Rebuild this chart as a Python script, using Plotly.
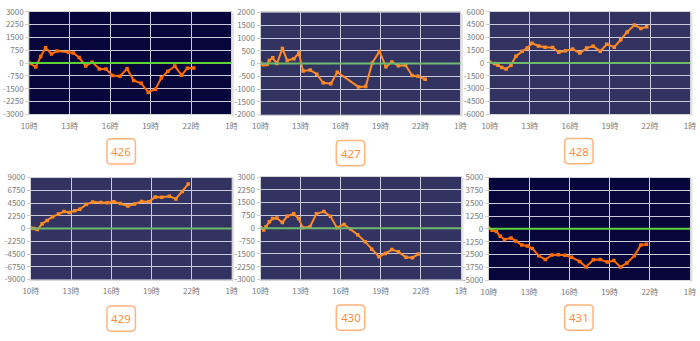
import plotly.graph_objects as go

W, H = 700, 341

# ---------------- data ----------------
hour_ticks = [10, 13, 16, 19, 22, 25]
hour_labels = ["10時", "13時", "16時", "19時", "22時", "1時"]
machine_ids = ["426", "427", "428", "429", "430", "431"]

t426 = [10, 10.48, 10.85, 11.21, 11.65, 12.06, 12.9, 13.27, 13.7, 14.19, 14.67, 15.2, 15.69,
        16.17, 16.73, 17.26, 17.74, 18.3, 18.83, 19.36, 19.8, 20.28, 20.8, 21.3, 21.73, 22.2]
v426 = [0, -229, 382, 898, 535, 707, 630, 592, 325, -172, 57, -344, -344,
        -726, -764, -325, -1012, -1184, -1700, -1528, -860, -478, -172, -707, -306, -287]

t427 = [10, 10.22, 10.49, 10.66, 10.91, 11.23, 11.64, 12.0, 12.5, 12.87, 13.19, 13.73, 14.22,
        14.7, 15.27, 15.76, 17.35, 17.89, 18.38, 18.92, 19.41, 19.85, 20.34, 20.88, 21.37, 21.81, 22.35]
v427 = [25, -50, -38, 125, 225, 0, 590, 125, 188, 413, -288, -250, -413,
        -750, -788, -338, -913, -900, 25, 475, -125, 63, -88, -63, -463, -500, -613]

t428 = [10, 10.36, 10.61, 10.9, 11.22, 11.58, 11.95, 12.43, 12.8, 13.16, 13.65, 14.14, 14.7,
        15.16, 15.67, 16.2, 16.74, 17.25, 17.74, 18.27, 18.76, 19.32, 19.8, 20.29, 20.83, 21.31, 21.75]
v428 = [76, -76, -265, -530, -719, -265, 795, 1363, 1741, 2309, 1999, 1855, 1817,
        1249, 1438, 1628, 1173, 1741, 1968, 1363, 2195, 1855, 2725, 3634, 4467, 4051, 4240]

t429 = [10, 10.24, 10.49, 10.85, 11.22, 11.63, 12.07, 12.48, 12.87, 13.28, 13.65, 14.14, 14.62,
        15.23, 15.72, 16.2, 16.69, 17.25, 17.74, 18.27, 18.81, 19.29, 19.78, 20.34, 20.83, 21.31, 21.75]
v429 = [114, 0, -171, 854, 1424, 2108, 2563, 3019, 2848, 3133, 3417, 4272, 4671,
        4614, 4557, 4728, 4443, 3987, 4329, 4785, 4728, 5582, 5525, 5696, 5241, 6551, 7861]

t430 = [10, 10.24, 10.41, 10.66, 10.9, 11.22, 11.63, 11.99, 12.48, 12.85, 13.16, 13.7, 14.18,
        14.74, 15.23, 15.72, 16.25, 16.74, 17.27, 17.83, 18.32, 18.86, 19.34, 19.83, 20.32, 20.88, 21.36, 21.8]
v430 = [38, -94, 94, 377, 566, 604, 340, 698, 849, 566, 38, 94, 849,
        981, 698, 38, 226, -38, -377, -792, -1226, -1660, -1472, -1245, -1377, -1698, -1717, -1509]

t431 = [10, 10.24, 10.56, 10.85, 11.17, 11.65, 12.02, 12.46, 12.87, 13.24, 13.72, 14.21, 14.7,
        15.18, 15.67, 16.16, 16.76, 17.25, 17.79, 18.3, 18.83, 19.32, 19.81, 20.29, 20.85, 21.34, 21.75]
v431 = [63, -126, -252, -723, -1038, -881, -1195, -1572, -1667, -1918, -2610, -2988, -2547,
        -2516, -2579, -2768, -3177, -3711, -3020, -2988, -3240, -3082, -3711, -3334, -2610, -1572, -1509]

y_max = [3000, 2000, 6000, 9000, 3000, 5000]

series = [(t426, v426), (t427, v427), (t428, v428), (t429, v429), (t430, v430), (t431, v431)]

# ---------------- layout (pixel boxes: left, right, top, bottom) ----------------
boxes = [
    (21.7, 228.0, 6.0, 112.0),
    (257.7, 461.7, 6.7, 112.3),
    (491.7, 696.0, 6.0, 111.7),
    (23.3, 228.3, 177.3, 282.7),
    (257.7, 462.3, 176.7, 282.7),
    (490.7, 696.0, 177.3, 283.3),
]
dark = [True, False, False, False, False, True]
badge_centers = [(115.5, 150.3), (349.5, 152.0), (582.5, 150.0),
                 (115.5, 323.0), (349.5, 322.0), (582.5, 322.0)]

fig = go.Figure()
shapes = []
annotations = []
tick_font = dict(family="Noto Sans CJK JP, Noto Sans, sans-serif", size=8, color="#7a7a7a")

for i, ((tx, vy), (L, R, T, B)) in enumerate(zip(series, boxes)):
    n = i + 1
    xa = "x" if n == 1 else f"x{n}"
    ya = "y" if n == 1 else f"y{n}"
    bg = "#06063a" if dark[i] else "#333361"
    line_col = "#ff6a00" if dark[i] else "#ff8a26"
    green = "#5ed33a" if dark[i] else "#6dba6d"

    fig.add_trace(go.Scatter(
        x=tx, y=vy, mode="lines+markers", xaxis=xa, yaxis=ya,
        line=dict(color=line_col, width=2),
        marker=dict(color=line_col, size=3.5, symbol="square"),
        showlegend=False, hoverinfo="skip",
    ))

    m = y_max[i]
    step = m / 4
    yticks = [m - k * step for k in range(9)]
    ytext = [f"{int(v)}" for v in yticks]

    xkey = "xaxis" if n == 1 else f"xaxis{n}"
    ykey = "yaxis" if n == 1 else f"yaxis{n}"
    fig.update_layout(**{
        xkey: dict(domain=[L / W, R / W], anchor=ya, range=[10, 25],
                   tickvals=hour_ticks, ticktext=hour_labels, tickfont=tick_font,
                   showgrid=True, gridcolor="#c9c9d9", gridwidth=1.3,
                   zeroline=False, showline=True, linecolor="#d4d4d4", linewidth=1, mirror=True,
                   ticks="outside", ticklen=4, tickcolor="rgba(0,0,0,0)", fixedrange=True),
        ykey: dict(domain=[1 - B / H, 1 - T / H], anchor=xa, range=[-m, m],
                   tickvals=yticks, ticktext=ytext, tickfont=tick_font,
                   showgrid=True, gridcolor="#c9c9d9", gridwidth=1.3,
                   zeroline=False, showline=True, linecolor="#d4d4d4", linewidth=1, mirror=True,
                   ticks="outside", ticklen=3, tickcolor="#d0d0d0", fixedrange=True),
    })
    shapes.append(dict(type="rect", xref=f"{xa} domain", yref=f"{ya} domain",
                       x0=0, x1=1, y0=0, y1=1, fillcolor=bg, line=dict(width=0), layer="below"))
    shapes.append(dict(type="line", xref=f"{xa} domain", yref=ya, x0=0, x1=1, y0=0, y1=0,
                       line=dict(color=green, width=2), layer="above"))
    shapes.append(dict(type="rect", xref="paper", yref="paper",
                       x0=(R + 0.5) / W, x1=(R + 2.5) / W, y0=1 - (B + 2) / H, y1=1 - (T + 1) / H,
                       fillcolor="#e2e2e2", line=dict(width=0), layer="below"))

    cx, cy = badge_centers[i]
    w2, h2, r = 14.5, 13, 4
    x0, x1, y0, y1 = cx - w2, cx + w2, cy - h2, cy + h2

    def P(x, y):
        return f"{x / W:.5f},{1 - y / H:.5f}"
    path = (f"M {P(x0 + r, y0)} L {P(x1 - r, y0)} Q {P(x1, y0)} {P(x1, y0 + r)} "
            f"L {P(x1, y1 - r)} Q {P(x1, y1)} {P(x1 - r, y1)} "
            f"L {P(x0 + r, y1)} Q {P(x0, y1)} {P(x0, y1 - r)} "
            f"L {P(x0, y0 + r)} Q {P(x0, y0)} {P(x0 + r, y0)} Z")
    shapes.append(dict(type="path", xref="paper", yref="paper", path=path,
                       fillcolor="white", line=dict(color="#ffb47e", width=1.5)))
    annotations.append(dict(xref="paper", yref="paper", x=cx / W, y=1 - cy / H,
                            text=machine_ids[i], showarrow=False,
                            font=dict(family="Noto Sans, sans-serif", size=11.5, color="#ff8c3a"),
                            xanchor="center", yanchor="middle"))

fig.update_layout(
    width=W, height=H, margin=dict(l=0, r=0, t=0, b=0),
    paper_bgcolor="white", plot_bgcolor="rgba(0,0,0,0)",
    shapes=shapes, annotations=annotations,
)

fig.write_html("out.html")
